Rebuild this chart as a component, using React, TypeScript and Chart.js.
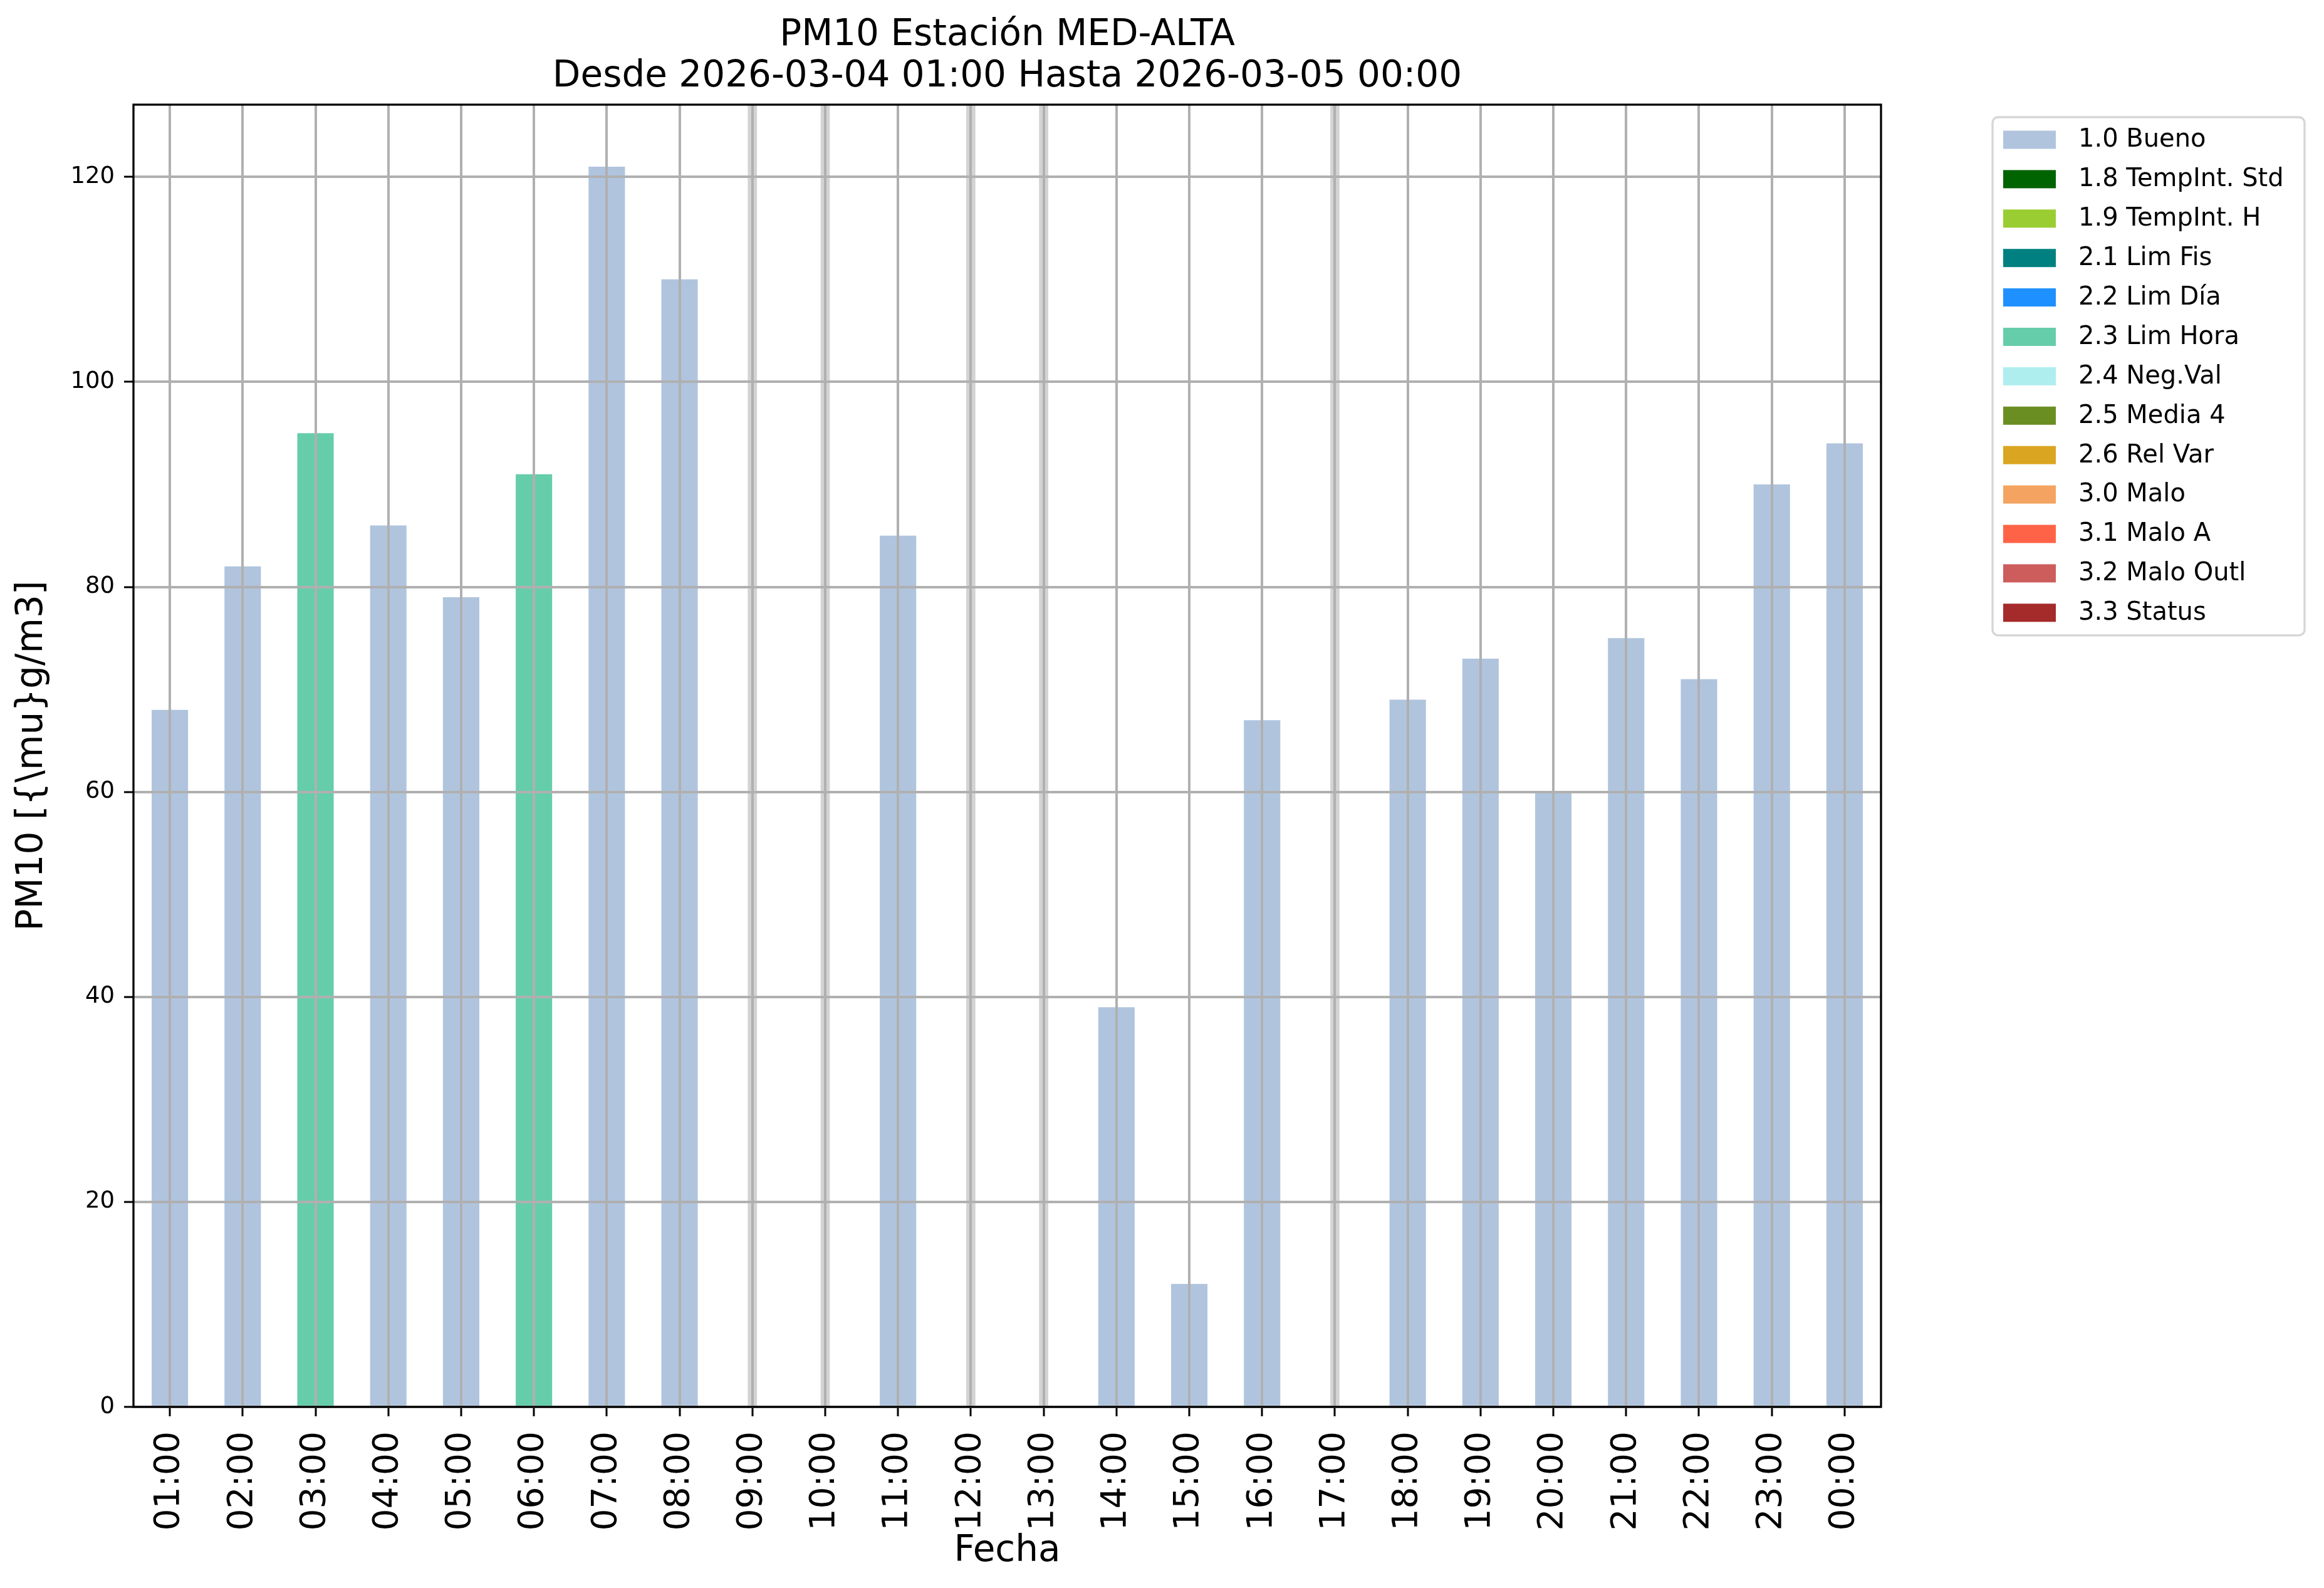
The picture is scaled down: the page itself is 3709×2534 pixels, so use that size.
import React, { useEffect, useRef } from 'react';
import { Chart, registerables } from 'chart.js';

Chart.register(...registerables);

const FONT = "'DejaVu Sans', 'Noto Sans', sans-serif";

const TITLE_LINES = ['PM10 Estación MED-ALTA', 'Desde 2026-03-04 01:00 Hasta 2026-03-05 00:00'];
const X_TITLE = 'Fecha';
const Y_TITLE = 'PM10 [{\\mu}g/m3]';

const HOURS = [
  '01:00', '02:00', '03:00', '04:00', '05:00', '06:00', '07:00', '08:00',
  '09:00', '10:00', '11:00', '12:00', '13:00', '14:00', '15:00', '16:00',
  '17:00', '18:00', '19:00', '20:00', '21:00', '22:00', '23:00', '00:00',
];

const PM10_VALUES: (number | null)[] = [
  68, 82, 95, 86, 79, 91, 121, 110,
  null, null, 85, null, null, 39, 12, 67,
  null, 69, 73, 60, 75, 71, 90, 94,
];

const FLAGS: (string | null)[] = [
  '1.0', '1.0', '2.3', '1.0', '1.0', '2.3', '1.0', '1.0',
  null, null, '1.0', null, null, '1.0', '1.0', '1.0',
  null, '1.0', '1.0', '1.0', '1.0', '1.0', '1.0', '1.0',
];

const FLAG_CODES = ['1.0', '1.8', '1.9', '2.1', '2.2', '2.3', '2.4', '2.5', '2.6', '3.0', '3.1', '3.2', '3.3'];
const FLAG_LABELS = [
  '1.0 Bueno', '1.8 TempInt. Std', '1.9 TempInt. H', '2.1 Lim Fis', '2.2 Lim Día',
  '2.3 Lim Hora', '2.4 Neg.Val', '2.5 Media 4', '2.6 Rel Var', '3.0 Malo',
  '3.1 Malo A', '3.2 Malo Outl', '3.3 Status',
];
const FLAG_COLORS = [
  '#b0c4de', '#006400', '#9acd32', '#008080', '#1e90ff',
  '#66cdaa', '#afeeee', '#6b8e23', '#daa520', '#f4a460',
  '#ff6347', '#cd5c5c', '#a52a2a',
];

const Y_MIN = 0;
const Y_MAX = 127.05;
const Y_STEP = 20;

const framePlugin = {
  id: 'frameAndLegend',
  afterDraw(chart: any) {
    const { ctx, chartArea: a } = chart;
    ctx.save();
    // axes frame
    ctx.strokeStyle = '#000';
    ctx.lineWidth = 3.3;
    ctx.strokeRect(a.left, a.top, a.right - a.left, a.bottom - a.top);

    // title, centred over the plot area
    ctx.fillStyle = '#000';
    ctx.font = `58px ${FONT}`;
    ctx.textAlign = 'center';
    ctx.textBaseline = 'middle';
    const cx = (a.left + a.right) / 2;
    TITLE_LINES.forEach((line, i) => {
      ctx.fillText(line, cx, a.top - 110 + i * 66);
    });

    // legend
    const items = chart.data.datasets.filter((d: any) => d.showInLegend);
    const boxLeft = a.right + 178;
    const boxTop = a.top + 20;
    const rowGap = 62.9;
    const firstRow = boxTop + 36;
    const boxW = 498;
    const boxH = 36 * 2 + rowGap * (items.length - 1);
    ctx.beginPath();
    ctx.roundRect(boxLeft, boxTop, boxW, boxH, 9);
    ctx.fillStyle = '#ffffff';
    ctx.fill();
    ctx.strokeStyle = '#d6d6d6';
    ctx.lineWidth = 3.3;
    ctx.stroke();
    ctx.font = `40px ${FONT}`;
    ctx.textBaseline = 'middle';
    ctx.textAlign = 'left';
    items.forEach((d: any, i: number) => {
      const cy = firstRow + i * rowGap;
      ctx.fillStyle = d.backgroundColor;
      ctx.fillRect(boxLeft + 17, cy - 14.5, 84, 29);
      ctx.fillStyle = '#000';
      ctx.fillText(d.label, boxLeft + 137, cy + 1);
    });
    ctx.restore();
  },
};

export default function App() {
  const ref = useRef<HTMLCanvasElement | null>(null);

  useEffect(() => {
    if (!ref.current) return;

    const flagDatasets = FLAG_CODES.map((code, k) => ({
      label: FLAG_LABELS[k],
      data: PM10_VALUES.map((v, i) => (FLAGS[i] === code ? v : null)),
      backgroundColor: FLAG_COLORS[k],
      borderWidth: 0,
      barPercentage: 0.5,
      categoryPercentage: 1.0,
      grouped: false,
      showInLegend: true,
      order: 1,
    }));

    const missingDataset = {
      label: 'missing',
      data: PM10_VALUES.map((v) => (v === null ? Y_MAX : null)),
      backgroundColor: '#d3d3d3',
      borderWidth: 0,
      barThickness: 14,
      grouped: false,
      showInLegend: false,
      order: 2,
    };

    const chart = new Chart(ref.current, {
      type: 'bar',
      data: {
        labels: HOURS,
        datasets: [...flagDatasets, missingDataset] as any,
      },
      plugins: [framePlugin],
      options: {
        animation: false,
        responsive: false,
        devicePixelRatio: 1,
        layout: { padding: { left: 0, top: 167, right: 707, bottom: 0 } },
        plugins: {
          legend: { display: false },
          tooltip: { enabled: false },
          title: { display: false },
        },
        scales: {
          x: {
            type: 'category',
            offset: true,
            afterFit: (s: any) => { s.height = 289; },
            grid: {
              display: true,
              offset: false,
              color: '#b0b0b0',
              lineWidth: 4,
              z: 1,
              drawTicks: true,
              tickLength: 15,
              tickColor: '#000',
              tickWidth: 3,
            },
            border: { display: false },
            ticks: {
              autoSkip: false,
              maxRotation: 90,
              minRotation: 90,
              padding: 24,
              color: '#000',
              font: { family: FONT, size: 55 },
            },
            title: {
              display: true,
              text: X_TITLE,
              color: '#000',
              font: { family: FONT, size: 58, lineHeight: 1.2 },
              padding: { top: 0, bottom: 23 },
            },
          },
          y: {
            type: 'linear',
            min: Y_MIN,
            max: Y_MAX,
            afterFit: (s: any) => { s.width = 213; },
            grid: {
              display: true,
              color: '#b0b0b0',
              lineWidth: 4,
              z: 1,
              drawTicks: true,
              tickLength: 15,
              tickColor: '#000',
              tickWidth: 3,
            },
            border: { display: false },
            ticks: {
              stepSize: Y_STEP,
              includeBounds: false,
              padding: 15,
              color: '#000',
              font: { family: FONT, size: 37 },
            },
            title: {
              display: true,
              text: Y_TITLE,
              color: '#000',
              font: { family: FONT, size: 58, lineHeight: 1.2 },
              padding: { top: 17, bottom: 0 },
            },
          },
        },
      } as any,
    });

    return () => chart.destroy();
  }, []);

  return (
    <div style={{ position: 'absolute', left: 0, top: 0, width: 3709, height: 2534, background: '#fff' }}>
      <canvas ref={ref} width={3709} height={2534} style={{ width: 3709, height: 2534 }} />
    </div>
  );
}
